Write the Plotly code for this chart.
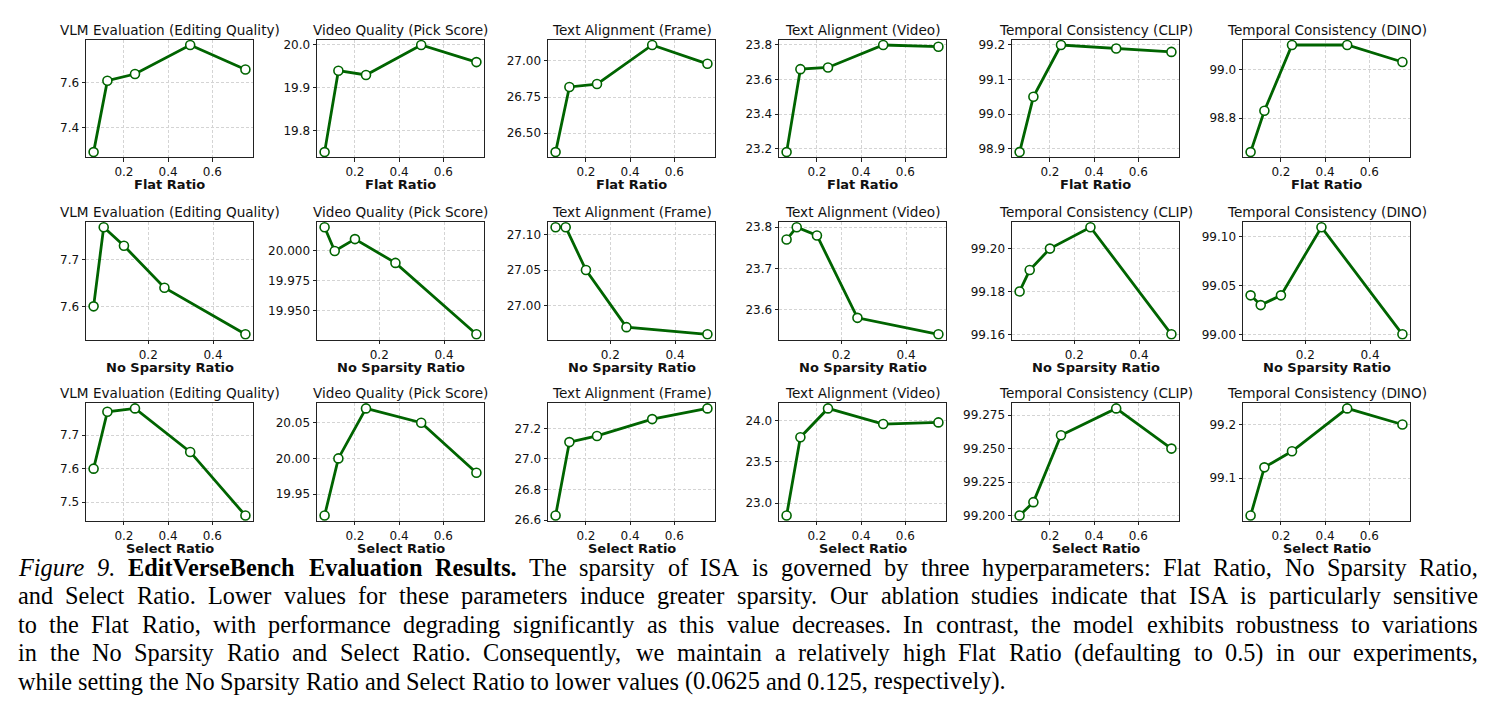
import os
import struct
import plotly.graph_objects as go

W, H = 1494, 719

flat_ratio = [0.0625, 0.125, 0.25, 0.5, 0.75]
no_sparsity_ratio = [0.03125, 0.0625, 0.125, 0.25, 0.5]
select_ratio = [0.0625, 0.125, 0.25, 0.5, 0.75]

metric_titles = ["VLM Evaluation (Editing Quality)", "Video Quality (Pick Score)",
                 "Text Alignment (Frame)", "Text Alignment (Video)",
                 "Temporal Consistency (CLIP)", "Temporal Consistency (DINO)"]
row_labels = ["Flat Ratio", "No Sparsity Ratio", "Select Ratio"]

flat_vlm = [7.29, 7.61, 7.64, 7.77, 7.66]
flat_pick = [19.75, 19.94, 19.93, 20.00, 19.96]
flat_frame = [26.37, 26.82, 26.84, 27.11, 26.98]
flat_video = [23.18, 23.66, 23.67, 23.80, 23.79]
flat_clip = [98.89, 99.05, 99.20, 99.19, 99.18]
flat_dino = [98.66, 98.83, 99.10, 99.10, 99.03]

nosp_vlm = [7.60, 7.77, 7.73, 7.64, 7.54]
nosp_pick = [20.02, 20.00, 20.01, 19.99, 19.93]
nosp_frame = [27.11, 27.11, 27.05, 26.97, 26.96]
nosp_video = [23.77, 23.80, 23.78, 23.58, 23.54]
nosp_clip = [99.18, 99.19, 99.20, 99.21, 99.16]
nosp_dino = [99.04, 99.03, 99.04, 99.11, 99.00]

sel_vlm = [7.60, 7.77, 7.78, 7.65, 7.46]
sel_pick = [19.92, 20.00, 20.07, 20.05, 19.98]
sel_frame = [26.63, 27.11, 27.15, 27.26, 27.33]
sel_video = [22.85, 23.80, 24.15, 23.96, 23.98]
sel_clip = [99.20, 99.21, 99.26, 99.28, 99.25]
sel_dino = [99.03, 99.12, 99.15, 99.23, 99.20]

# y tick step and label format per panel
flat_ytick = [(0.2, ".1f"), (0.1, ".1f"), (0.25, ".2f"), (0.2, ".1f"), (0.1, ".1f"), (0.2, ".1f")]
nosp_ytick = [(0.1, ".1f"), (0.025, ".3f"), (0.05, ".2f"), (0.1, ".1f"), (0.02, ".2f"), (0.05, ".2f")]
sel_ytick = [(0.1, ".1f"), (0.05, ".2f"), (0.2, ".1f"), (0.5, ".1f"), (0.025, ".3f"), (0.1, ".1f")]
flat_xticks = [0.2, 0.4, 0.6]
nosp_xticks = [0.2, 0.4]
sel_xticks = [0.2, 0.4, 0.6]

# caption: list of lines, each a list of (text, style) runs
caption_lines = [
    [("Figure 9.", "i"), ("EditVerseBench Evaluation Results.", "b"),
     ("The sparsity of ISA is governed by three hyperparameters: Flat Ratio, No Sparsity Ratio,", "r")],
    [("and Select Ratio. Lower values for these parameters induce greater sparsity. Our ablation studies indicate that ISA is particularly sensitive", "r")],
    [("to the Flat Ratio, with performance degrading significantly as this value decreases. In contrast, the model exhibits robustness to variations", "r")],
    [("in the No Sparsity Ratio and Select Ratio. Consequently, we maintain a relatively high Flat Ratio (defaulting to 0.5) in our experiments,", "r")],
    [("while setting the No Sparsity Ratio and Select Ratio to lower values (0.0625 and 0.125, respectively).", "r")],
]

rows = [
    (flat_ratio, [flat_vlm, flat_pick, flat_frame, flat_video, flat_clip, flat_dino], flat_ytick, flat_xticks),
    (no_sparsity_ratio, [nosp_vlm, nosp_pick, nosp_frame, nosp_video, nosp_clip, nosp_dino], nosp_ytick, nosp_xticks),
    (select_ratio, [sel_vlm, sel_pick, sel_frame, sel_video, sel_clip, sel_dino], sel_ytick, sel_xticks),
]

# layout (pixels)
col_left = [86, 317, 548, 779, 1012, 1243]
plot_w = 167
row_top = [39, 223, 406]
plot_h = 119

GREEN = "#006400"
TICKFONT = dict(family="DejaVu Sans", size=12, color="#111")

fig = go.Figure()
annotations = []
idx = 0
for r, (xs, series, yticks, xticks) in enumerate(rows):
    xmin, xmax = min(xs), max(xs)
    xpad = 0.05 * (xmax - xmin)
    for c in range(6):
        idx += 1
        sfx = "" if idx == 1 else str(idx)
        ys = series[c]
        ymin, ymax = min(ys), max(ys)
        ypad = 0.05 * (ymax - ymin)
        fig.add_trace(go.Scatter(
            x=xs, y=ys, mode="lines+markers", xaxis="x" + sfx, yaxis="y" + sfx,
            line=dict(color=GREEN, width=2.8),
            marker=dict(symbol="circle", size=9, color="white", line=dict(color=GREEN, width=1.6)),
            showlegend=False, hoverinfo="x+y"))
        x0 = col_left[c] / W
        x1 = (col_left[c] + plot_w) / W
        y1 = 1 - row_top[r] / H
        y0 = 1 - (row_top[r] + plot_h) / H
        dt, fmt = yticks[c]
        axcommon = dict(showline=True, linecolor="#222", linewidth=1, mirror=True,
                        ticks="outside", ticklen=3.5, tickwidth=0.8, tickcolor="#222",
                        showgrid=True, gridcolor="#d4d4d4", griddash="3px,2px", gridwidth=0.8,
                        zeroline=False, tickfont=TICKFONT)
        fig.update_layout(**{
            "xaxis" + sfx: dict(domain=[x0, x1], anchor="y" + sfx,
                                range=[xmin - xpad, xmax + xpad],
                                tickvals=xticks, tickformat=".1f", **axcommon),
            "yaxis" + sfx: dict(domain=[y0, y1], anchor="x" + sfx,
                                range=[ymin - ypad, ymax + ypad],
                                tick0=0, dtick=dt, tickformat=fmt, **axcommon),
        })
        annotations.append(dict(text=metric_titles[c], x=0.5, y=1, xref="x%s domain" % sfx,
                                yref="y%s domain" % sfx, xanchor="center", yanchor="bottom",
                                yshift=0, showarrow=False,
                                font=dict(family="DejaVu Sans", size=13.6, color="#111")))
        annotations.append(dict(text="<b>%s</b>" % row_labels[r], x=0.5, y=0, xref="x%s domain" % sfx,
                                yref="y%s domain" % sfx, xanchor="center", yanchor="middle",
                                yshift=-27.5, showarrow=False, borderpad=0,
                                font=dict(family="DejaVu Sans", size=13, color="#111")))


# ---- caption (justified like the paper) ----
def find_font(name):
    roots = ["/usr/share/fonts", "/usr/local/share/fonts",
             os.path.expanduser("~/.fonts"), os.path.expanduser("~/.local/share/fonts")]
    for root in roots:
        if not os.path.isdir(root):
            continue
        for dp, dn, fn in os.walk(root):
            if name in fn:
                return os.path.join(dp, name)
    return None


def load_width_fn(path):
    data = open(path, "rb").read()
    num_tables = struct.unpack(">H", data[4:6])[0]
    tables = {}
    for i in range(num_tables):
        off = 12 + 16 * i
        tag = data[off:off + 4].decode("latin1")
        _, toff, tlen = struct.unpack(">III", data[off + 4:off + 16])
        tables[tag] = toff
    head = tables["head"]
    upem = struct.unpack(">H", data[head + 18:head + 20])[0]
    hhea = tables["hhea"]
    nhm = struct.unpack(">H", data[hhea + 34:hhea + 36])[0]
    hmtx = tables["hmtx"]
    adv = [struct.unpack(">H", data[hmtx + 4 * i:hmtx + 4 * i + 2])[0] for i in range(nhm)]
    cmap = tables["cmap"]
    nsub = struct.unpack(">H", data[cmap + 2:cmap + 4])[0]
    sub = None
    for i in range(nsub):
        pid, eid, soff = struct.unpack(">HHI", data[cmap + 4 + 8 * i:cmap + 12 + 8 * i])
        fmt = struct.unpack(">H", data[cmap + soff:cmap + soff + 2])[0]
        if fmt == 4 and pid in (0, 3):
            sub = cmap + soff
            break
    seg2 = struct.unpack(">H", data[sub + 6:sub + 8])[0]
    n = seg2 // 2
    ends = struct.unpack(">%dH" % n, data[sub + 14:sub + 14 + seg2])
    so = sub + 16 + seg2
    starts = struct.unpack(">%dH" % n, data[so:so + seg2])
    do = so + seg2
    deltas = struct.unpack(">%dh" % n, data[do:do + seg2])
    ro = do + seg2
    ros = struct.unpack(">%dH" % n, data[ro:ro + seg2])

    def glyph(ch):
        cp = ord(ch)
        for i in range(n):
            if ends[i] >= cp:
                if starts[i] > cp:
                    return 0
                if ros[i] == 0:
                    return (cp + deltas[i]) & 0xFFFF
                addr = ro + 2 * i + ros[i] + 2 * (cp - starts[i])
                g = struct.unpack(">H", data[addr:addr + 2])[0]
                return 0 if g == 0 else (g + deltas[i]) & 0xFFFF
        return 0

    def width(s):
        return sum(adv[min(glyph(ch), nhm - 1)] for ch in s) / upem
    return width


CAP_FONT = "Liberation Serif"
CAP_SIZE = 24.3
cap_left, cap_right = 18, 1478
cap_y = [572 + 28.7 * i for i in range(5)]
style_files = {"r": "LiberationSerif-Regular.ttf", "b": "LiberationSerif-Bold.ttf",
               "i": "LiberationSerif-Italic.ttf"}
wfns = {}
try:
    for k, f in style_files.items():
        p = find_font(f)
        if p is None:
            raise FileNotFoundError(f)
        wfns[k] = load_width_fn(p)
except Exception:
    wfns = {}


def styled(t, s):
    return "<b>%s</b>" % t if s == "b" else ("<i>%s</i>" % t if s == "i" else t)


for li, runs in enumerate(caption_lines):
    ypos = 1 - cap_y[li] / H
    words = [(w, s) for text, s in runs for w in text.split(" ")]
    if wfns:
        widths = [wfns[s](w) * CAP_SIZE for w, s in words]
        last = li == len(caption_lines) - 1
        if last:
            gap = wfns["r"](" ") * CAP_SIZE
        else:
            gap = (cap_right - cap_left - sum(widths)) / (len(words) - 1)
        xcur = cap_left
        for (w, s), wd in zip(words, widths):
            annotations.append(dict(text=styled(w, s), x=xcur / W, y=ypos, xref="paper", yref="paper",
                                    xanchor="left", yanchor="middle", showarrow=False,
                                    borderpad=0, borderwidth=0,
                                    font=dict(family=CAP_FONT, size=CAP_SIZE, color="black")))
            xcur += wd + gap
    else:
        text = " ".join(styled(t, s) for t, s in runs)
        annotations.append(dict(text=text, x=cap_left / W, y=ypos, xref="paper", yref="paper",
                                xanchor="left", yanchor="middle", showarrow=False,
                                font=dict(family=CAP_FONT, size=CAP_SIZE, color="black")))

fig.update_layout(width=W, height=H, margin=dict(l=0, r=0, t=0, b=0),
                  paper_bgcolor="white", plot_bgcolor="white",
                  annotations=annotations)
fig.write_html("out.html")
